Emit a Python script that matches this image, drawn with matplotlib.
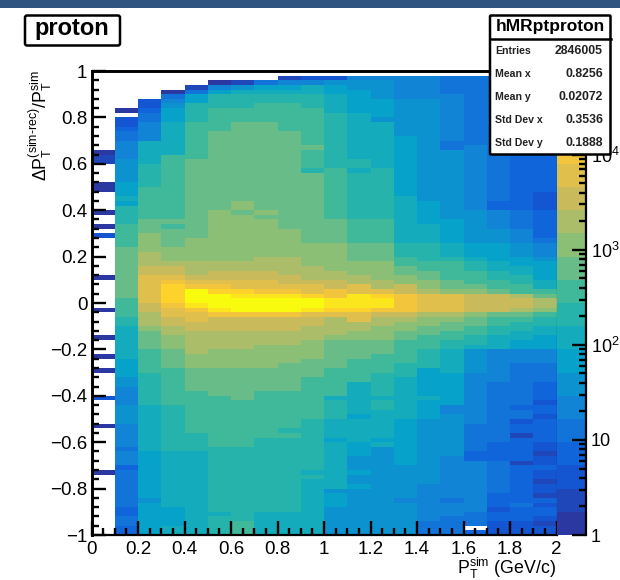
"""Resolution map of proton pT (ROOT style colz plot with stats box)."""

import matplotlib

matplotlib.use("Agg")
import matplotlib.pyplot as plt
import numpy as np
from matplotlib.colors import BoundaryNorm, LinearSegmentedColormap, ListedColormap
from matplotlib.patches import FancyBboxPatch, Rectangle
from matplotlib.ticker import FixedLocator, NullFormatter

plt.rcParams["font.family"] = ["Liberation Sans", "DejaVu Sans"]
plt.rcParams["mathtext.fontset"] = "custom"
plt.rcParams["mathtext.rm"] = "Liberation Sans"
plt.rcParams["mathtext.it"] = "Liberation Sans:italic"
plt.rcParams["mathtext.bf"] = "Liberation Sans:bold"

E = -1  # empty bin

# Each column (one 0.1 wide pT bin): (row where the run ends, palette level),
# rows counted from y=+1 downwards, 100 rows of 0.02.
col_00 = [(17, E), (18, 0), (20, 1), (24, E), (26, 0), (30, E), (31, 0), (33, E), (34, 0), (35, E), (36, 2), (44, E), (45, 0), (51, E), (52, 0), (57, E), (58, 0), (61, E), (62, 0), (64, E), (65, 0), (70, E), (71, 2), (76, E), (77, 0), (86, E), (87, 0), (100, E)]
col_01 = [(8, E), (9, 0), (10, E), (12, 2), (13, 3), (15, 4), (19, 5), (24, 6), (27, 7), (28, 8), (29, 7), (33, 9), (38, 10), (49, 11), (53, 10), (55, 9), (62, 8), (66, 7), (68, 6), (72, 5), (76, 6), (81, 5), (82, 4), (85, 5), (86, 3), (94, 4), (96, 3), (98, 4), (100, 3)]
col_02 = [(6, E), (8, 2), (9, 3), (11, 4), (15, 5), (20, 8), (25, 9), (32, 10), (35, 11), (39, 12), (42, 13), (44, 14), (50, 15), (52, 14), (55, 13), (56, 12), (60, 11), (65, 10), (72, 9), (82, 8), (92, 7), (93, 6), (100, 7)]
col_03 = [(4, E), (5, 0), (6, 4), (7, 5), (8, 6), (11, 7), (18, 8), (32, 10), (33, 11), (34, 10), (38, 11), (41, 12), (42, 13), (44, 14), (45, 15), (46, 16), (50, 17), (51, 16), (53, 15), (55, 14), (57, 13), (60, 12), (64, 11), (72, 10), (82, 9), (94, 8), (98, 7), (100, 8)]
col_04 = [(3, E), (4, 1), (5, 4), (7, 7), (11, 9), (19, 10), (36, 11), (41, 12), (44, 13), (45, 14), (46, 15), (47, 16), (50, 19), (51, 18), (52, 16), (54, 15), (56, 14), (61, 13), (64, 12), (69, 11), (78, 10), (82, 9), (100, 8)]
col_05 = [(2, E), (3, 0), (4, 5), (5, 7), (8, 9), (13, 10), (30, 11), (41, 12), (43, 13), (45, 14), (46, 15), (47, 16), (48, 17), (51, 19), (52, 18), (53, 16), (56, 14), (60, 13), (64, 12), (70, 11), (81, 10), (95, 9), (96, 8), (100, 9)]
col_06 = [(2, E), (3, 1), (4, 6), (5, 8), (8, 9), (11, 10), (28, 11), (30, 12), (31, 11), (41, 12), (43, 13), (45, 14), (47, 15), (48, 17), (49, 18), (52, 19), (53, 16), (56, 14), (60, 13), (64, 12), (71, 11), (81, 10), (97, 9), (100, 10)]
col_07 = [(2, E), (3, 4), (4, 7), (5, 8), (7, 9), (11, 10), (30, 11), (31, 12), (32, 11), (40, 12), (43, 13), (45, 14), (47, 15), (48, 16), (49, 18), (52, 19), (53, 16), (56, 14), (59, 13), (64, 12), (69, 11), (79, 10), (95, 9), (100, 8)]
col_08 = [(1, E), (2, 1), (3, 5), (4, 7), (5, 8), (7, 9), (13, 10), (34, 11), (40, 12), (44, 13), (46, 14), (47, 15), (48, 16), (49, 18), (52, 19), (53, 16), (56, 14), (59, 13), (63, 12), (69, 11), (77, 10), (78, 9), (79, 10), (95, 9), (100, 8)]
col_09 = [(1, E), (2, 2), (3, 5), (5, 8), (8, 9), (16, 10), (17, 11), (21, 10), (22, 9), (37, 11), (42, 12), (45, 13), (46, 14), (48, 15), (49, 17), (51, 19), (52, 18), (53, 15), (55, 14), (58, 13), (62, 12), (66, 11), (75, 10), (86, 9), (87, 8), (88, 9), (100, 8)]
col_10 = [(1, E), (2, 2), (3, 6), (5, 7), (9, 8), (21, 9), (32, 10), (37, 11), (43, 12), (45, 13), (47, 14), (49, 16), (51, 18), (52, 17), (53, 15), (57, 13), (58, 12), (64, 11), (70, 10), (71, 8), (75, 9), (79, 8), (80, 7), (90, 8), (91, 6), (94, 7), (100, 6)]
col_11 = [(1, E), (2, 5), (4, 6), (9, 7), (19, 8), (21, 9), (22, 8), (32, 9), (37, 10), (41, 11), (44, 12), (46, 13), (48, 15), (51, 18), (52, 17), (54, 15), (56, 13), (58, 12), (62, 11), (67, 10), (74, 8), (75, 7), (80, 8), (83, 7), (86, 6), (87, 7), (89, 6), (90, 7), (100, 6)]
col_12 = [(1, E), (2, 5), (6, 6), (10, 7), (11, 6), (21, 8), (32, 9), (37, 10), (41, 11), (45, 12), (47, 13), (48, 15), (49, 17), (51, 18), (52, 16), (53, 14), (55, 13), (58, 12), (61, 11), (65, 10), (70, 9), (71, 8), (73, 9), (79, 8), (80, 7), (81, 8), (100, 6)]
col_13 = [(1, E), (6, 5), (14, 6), (27, 7), (37, 8), (40, 9), (42, 10), (44, 11), (46, 12), (48, 14), (52, 16), (53, 14), (54, 13), (56, 12), (58, 11), (63, 10), (66, 9), (67, 8), (75, 8), (85, 7), (92, 6), (93, 5), (100, 6)]
col_14 = [(1, E), (6, 5), (28, 6), (33, 7), (37, 8), (41, 9), (43, 10), (45, 11), (47, 12), (48, 13), (52, 15), (53, 13), (55, 12), (57, 11), (60, 10), (64, 9), (70, 7), (71, 8), (75, 7), (89, 6), (97, 5), (100, 4)]
col_15 = [(1, E), (5, 4), (15, 5), (17, 4), (32, 6), (37, 7), (40, 8), (41, 9), (45, 10), (47, 11), (48, 12), (52, 15), (53, 13), (54, 12), (56, 11), (58, 10), (60, 9), (65, 8), (72, 7), (74, 5), (83, 6), (92, 5), (93, 4), (96, 5), (100, 4)]
col_16 = [(1, E), (16, 4), (30, 5), (37, 6), (40, 7), (41, 8), (43, 9), (46, 10), (47, 11), (48, 12), (52, 14), (53, 12), (55, 11), (57, 10), (59, 9), (60, 8), (65, 6), (76, 5), (82, 4), (84, 3), (95, 5), (98, 4), (99, E), (100, 3)]
col_17 = [(1, E), (28, 4), (30, 3), (34, 5), (37, 6), (41, 7), (43, 8), (45, 9), (47, 10), (48, 11), (52, 14), (53, 11), (55, 10), (57, 9), (60, 8), (67, 5), (80, 4), (84, 3), (91, 4), (94, 3), (95, 2), (97, 3), (100, 2)]
col_18 = [(1, E), (30, 3), (34, 4), (37, 5), (40, 6), (42, 7), (44, 8), (46, 9), (48, 10), (49, 13), (51, 14), (52, 13), (53, 11), (54, 10), (56, 9), (58, 8), (60, 7), (63, 5), (72, 4), (73, 3), (75, 4), (76, 2), (78, 3), (79, 1), (84, 3), (85, 1), (93, 3), (94, 4), (97, 3), (100, 2)]
col_19 = [(1, E), (26, 3), (30, 2), (36, 3), (37, 4), (40, 5), (41, 6), (45, 7), (47, 8), (48, 10), (49, 11), (51, 13), (52, 12), (53, 10), (55, 9), (57, 8), (60, 7), (63, 5), (67, 4), (71, 3), (72, 2), (74, 3), (75, 2), (80, 3), (82, 2), (83, 1), (85, 2), (86, 3), (88, 2), (89, 1), (91, 2), (92, 1), (93, 3), (94, 2), (96, 3), (97, 2), (98, 1), (100, 2)]
columns = [col_00, col_01, col_02, col_03, col_04, col_05, col_06, col_07, col_08, col_09,
           col_10, col_11, col_12, col_13, col_14, col_15, col_16, col_17, col_18, col_19]

z_max = 7.6e4
n_contours = 20
x_ticks = [0, 0.2, 0.4, 0.6, 0.8, 1, 1.2, 1.4, 1.6, 1.8, 2]
x_tick_labels = ["0", "0.2", "0.4", "0.6", "0.8", "1", "1.2", "1.4", "1.6", "1.8", "2"]
y_ticks = [-1, -0.8, -0.6, -0.4, -0.2, 0, 0.2, 0.4, 0.6, 0.8, 1]
y_tick_labels = ["\u22121", "\u22120.8", "\u22120.6", "\u22120.4", "\u22120.2", "0", "0.2", "0.4", "0.6", "0.8", "1"]
z_ticks = [1, 10, 100, 1000, 10000]
z_tick_labels = ["1", "10", "$10^{2}$", "$10^{3}$", "$10^{4}$"]
stat_names = ["Entries", "Mean x", "Mean y", "Std Dev x", "Std Dev y"]
stat_values = ["2846005", "0.8256", "0.02072", "0.3536", "0.1888"]

# ROOT kBird palette stops, first one nudged towards the picture's blue
bird = [(0.17, 0.22, 0.63), (0.0592, 0.3599, 0.8684), (0.0780, 0.5041, 0.8385),
        (0.0232, 0.6419, 0.7914), (0.1802, 0.7178, 0.6425), (0.5301, 0.7492, 0.4662),
        (0.8186, 0.7328, 0.3499), (0.9956, 0.7862, 0.1968), (0.9764, 0.9832, 0.0539)]

W, H = 620, 580


def px_axes(fig, left, top, right, bottom):
    return fig.add_axes([left / W, 1 - bottom / H, (right - left) / W, (bottom - top) / H])


def build_levels():
    grid = np.full((100, 20), np.nan)
    for j, col in enumerate(columns):
        start = 0
        for end, level in col:
            if level >= 0:
                grid[start:end, j] = level
            start = end
    return grid


fig = plt.figure(figsize=(W / 100, H / 100), dpi=100)

bounds = np.logspace(0, np.log10(z_max), n_contours + 1)
centers = np.sqrt(bounds[:-1] * bounds[1:])
cmap = ListedColormap(LinearSegmentedColormap.from_list("bird", bird)(np.linspace(0, 1, n_contours)))
norm = BoundaryNorm(bounds, n_contours)

levels = build_levels()
counts = np.where(np.isnan(levels), np.nan, centers[np.nan_to_num(levels).astype(int)])
x_edges = np.arange(0, 2.01, 0.1)
y_edges = np.linspace(1, -1, 101)

ax = px_axes(fig, 91.5, 71, 556.5, 535)
ax.pcolormesh(x_edges, y_edges, np.ma.masked_invalid(counts), cmap=cmap, norm=norm, linewidth=0)
ax.set_xlim(0, 2)
ax.set_ylim(-1, 1)
ax.set_xticks(x_ticks, x_tick_labels)
ax.set_yticks(y_ticks, y_tick_labels)
ax.xaxis.set_minor_locator(FixedLocator(np.arange(0, 2.01, 0.05)))
ax.yaxis.set_minor_locator(FixedLocator(np.arange(-1, 1.01, 0.04)))
ax.tick_params(which="major", direction="in", length=10, width=1.7, labelsize=13.5, pad=3)
ax.tick_params(which="minor", direction="in", length=5, width=1.7)
ax.tick_params(axis="x", pad=4)
for side in ["left", "top"]:
    ax.spines[side].set_linewidth(2.1)
ax.spines["right"].set_linewidth(0.8)
ax.spines["bottom"].set_linewidth(1.6)
ax.set_axisbelow(False)

cax = px_axes(fig, 557, 71, 586, 535)
cax.pcolormesh([0, 1], bounds, centers[:, None], cmap=cmap, norm=norm, linewidth=0)
cax.set_yscale("log")
cax.set_ylim(1, z_max)
cax.set_xticks([])
cax.yaxis.tick_right()
cax.set_yticks(z_ticks, z_tick_labels)
cax.yaxis.set_minor_locator(FixedLocator([m * 10 ** d for d in range(5) for m in range(2, 10) if m * 10 ** d < z_max]))
cax.yaxis.set_minor_formatter(NullFormatter())
cax.tick_params(which="major", direction="in", length=10, width=1.7, labelsize=13, pad=3.5)
cax.tick_params(which="minor", direction="in", length=5, width=1.7)
for side in ["left", "top", "bottom"]:
    cax.spines[side].set_visible(False)
cax.spines["right"].set_linewidth(1.6)

# everything else sits on a pixel-coordinate overlay above the axes
top = fig.add_axes([0, 0, 1, 1], zorder=10)
top.set_xlim(0, W)
top.set_ylim(H, 0)
top.axis("off")
top.add_patch(Rectangle((0, 0), W, 7.5, facecolor="#2f5480", edgecolor="none"))

top.text(556, 568, r"$\mathrm{P_{T}^{sim}}$ (GeV/c)", ha="right", va="center", fontsize=12.8)
top.text(40, 70, r"$\Delta\mathrm{P_{T}^{(sim\text{-}rec)}/P_{T}^{sim}}$", rotation=90,
         ha="center", va="top", fontsize=12.8)

top.add_patch(FancyBboxPatch((25, 15.5), 95, 30, boxstyle="round,pad=0,rounding_size=2",
                             facecolor="white", edgecolor="black", linewidth=1.8))
top.text(72, 28.5, "proton", ha="center", va="center", fontsize=17, fontweight="bold")

top.add_patch(FancyBboxPatch((490, 15.5), 120.5, 139, boxstyle="round,pad=0,rounding_size=1",
                             facecolor="white", edgecolor="black", linewidth=1.8))
top.plot([490, 610.5], [38.5, 38.5], color="black", lw=1.8)
top.text(550, 26, "hMRptproton", ha="center", va="center", fontsize=12.5, fontweight="bold")
for k, (name, value) in enumerate(zip(stat_names, stat_values)):
    y = 51 + 23 * k
    top.text(495, y, name, ha="left", va="center", fontsize=7.6, fontweight="bold", color="#222222")
    top.text(603, y, value, ha="right", va="center", fontsize=8.8, fontweight="bold", color="#222222")

fig.savefig("out.png", dpi=100)
